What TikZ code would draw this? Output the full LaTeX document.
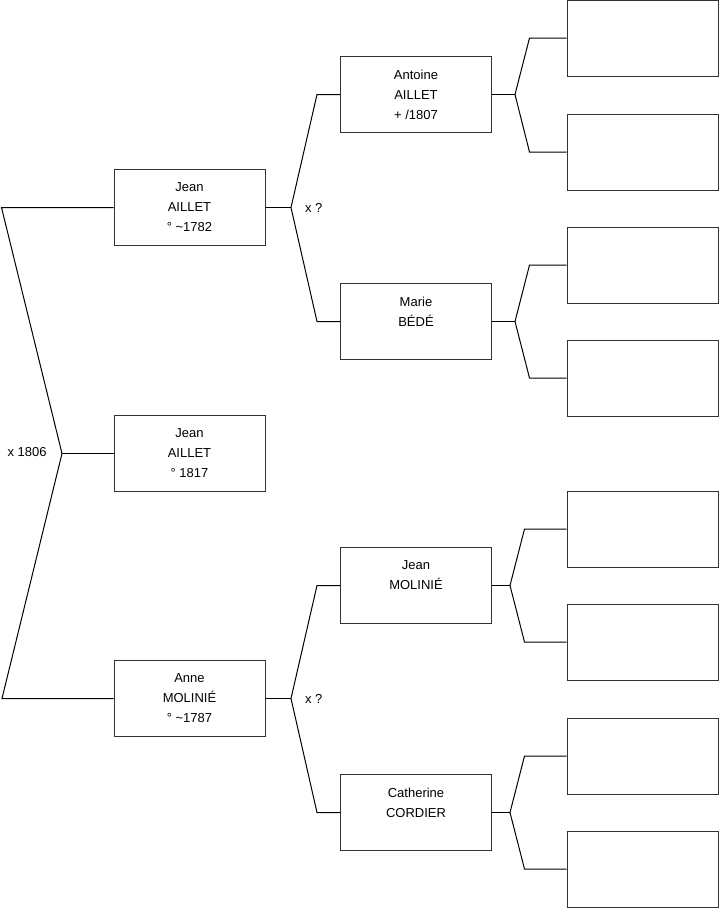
\documentclass[tikz,border=0pt]{standalone}
\usepackage{fontspec}
\setmainfont{Liberation Sans}
\usetikzlibrary{calc}
\tikzset{
  pers/.style={draw=black!80, line width=0.75pt, rectangle, align=center,
    minimum width=113.25pt, minimum height=57pt, inner sep=0pt,
    font=\fontsize{9.75}{15}\selectfont},
  lien/.style={line width=0.75pt},
}
\begin{document}
\begin{tikzpicture}[x=0.75pt,y=-0.75pt]
\useasboundingbox (0,0) rectangle (719,908);
% generation 1
\node[pers] (p1) at (189.5,207.5) {Jean\\AILLET\\° \textasciitilde1782};
\node[pers] (p2) at (189.5,453.5) {Jean\\AILLET\\° 1817};
\node[pers] (p3) at (189.5,698.5) {Anne\\MOLINIÉ\\° \textasciitilde1787};
% generation 2
\node[pers] (p4) at (416,94.5) {Antoine\\AILLET\\+ /1807};
\node[pers] (p5) at (416,321.5) {Marie\\BÉDÉ\\\mbox{}};
\node[pers] (p6) at (416,585.5) {Jean\\MOLINIÉ\\\mbox{}};
\node[pers] (p7) at (416,812.5) {Catherine\\CORDIER\\\mbox{}};
% generation 3
\node[pers] (p8) at (642.5,38) {};
\node[pers] (p9) at (642.5,152) {};
\node[pers] (p10) at (642.5,265) {};
\node[pers] (p11) at (642.5,378) {};
\node[pers] (p12) at (642.5,529) {};
\node[pers] (p13) at (642.5,642) {};
\node[pers] (p14) at (642.5,756) {};
\node[pers] (p15) at (642.5,869) {};
% forks
\coordinate[label={[font=\fontsize{9.75}{12}\selectfont,xshift=-8pt,yshift=1pt]left:x 1806}] (f0) at (62,453.5);
\coordinate[label={[font=\fontsize{9.75}{12}\selectfont,xshift=7pt]right:x ?}] (f1) at (291,207.5);
\coordinate[label={[font=\fontsize{9.75}{12}\selectfont,xshift=7pt]right:x ?}] (f3) at (291,698.5);
\coordinate (f4) at (515,94.5);
\coordinate (f5) at (515,321.5);
\coordinate (f6) at (510,585.5);
\coordinate (f7) at (510,812.5);
\draw[lien] (p1.west) -- ++(-112,0) -- (f0) -- (2,698.5) -- (p3.west);
\draw[lien] (f0) -- (p2.west);
\draw[lien] (p1.east) -- (f1);
\draw[lien] (p4.west) -- ++(-23,0) -- (f1) -- ($(p5.west)+(-23,0)$) -- (p5.west);
\draw[lien] (p3.east) -- (f3);
\draw[lien] (p6.west) -- ++(-23,0) -- (f3) -- ($(p7.west)+(-23,0)$) -- (p7.west);
\draw[lien] (p4.east) -- (f4);
\draw[lien] (p8.west) -- ++(-37,0) -- (f4) -- ($(p9.west)+(-37,0)$) -- (p9.west);
\draw[lien] (p5.east) -- (f5);
\draw[lien] (p10.west) -- ++(-37,0) -- (f5) -- ($(p11.west)+(-37,0)$) -- (p11.west);
\draw[lien] (p6.east) -- (f6);
\draw[lien] (p12.west) -- ++(-42,0) -- (f6) -- ($(p13.west)+(-42,0)$) -- (p13.west);
\draw[lien] (p7.east) -- (f7);
\draw[lien] (p14.west) -- ++(-42,0) -- (f7) -- ($(p15.west)+(-42,0)$) -- (p15.west);
\end{tikzpicture}
\end{document}
